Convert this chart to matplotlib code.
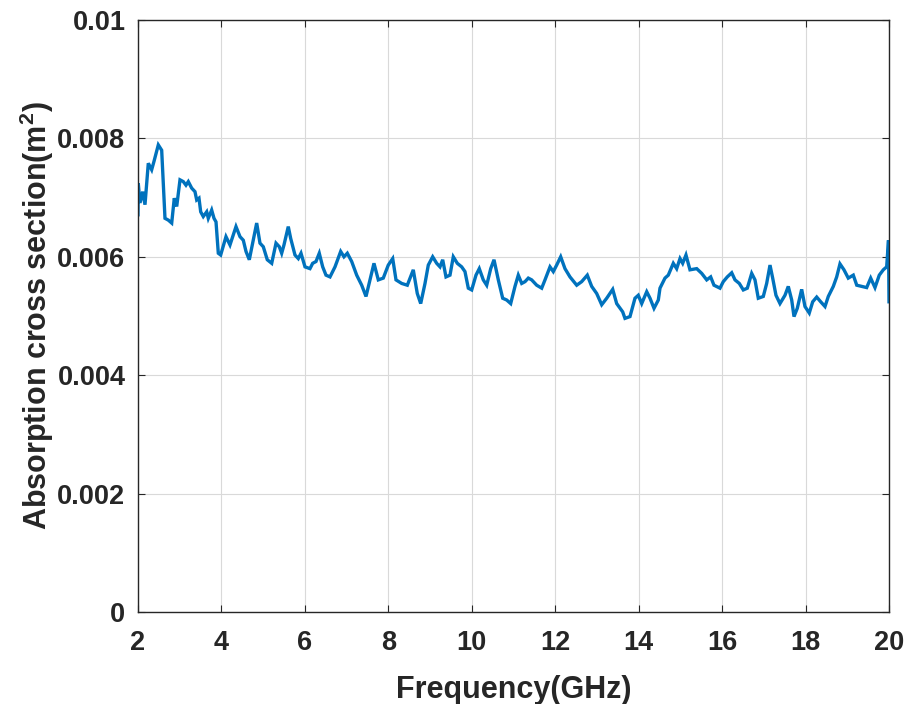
import matplotlib
matplotlib.use("Agg")
import matplotlib.pyplot as plt

# frequency (GHz) and absorption cross section (x1e-3 m^2)
freq = [
    2.000, 2.007, 2.048, 2.113, 2.168, 2.247, 2.328, 2.383, 2.487, 2.568,
    2.647, 2.726, 2.808, 2.870, 2.928, 3.007, 3.086, 3.150, 3.206, 3.287,
    3.366, 3.407, 3.462, 3.503, 3.565, 3.647, 3.685, 3.766, 3.822, 3.870,
    3.925, 3.982, 4.109, 4.205, 4.349, 4.445, 4.524, 4.589, 4.668, 4.749,
    4.845, 4.924, 5.003, 5.099, 5.205, 5.308, 5.387, 5.444, 5.499, 5.602,
    5.660, 5.763, 5.842, 5.907, 6.003, 6.122, 6.187, 6.266, 6.345, 6.427,
    6.506, 6.602, 6.722, 6.858, 6.937, 7.017, 7.122, 7.242, 7.362, 7.465,
    7.561, 7.656, 7.760, 7.879, 7.999, 8.105, 8.184, 8.320, 8.455, 8.598,
    8.694, 8.776, 8.879, 8.958, 9.063, 9.159, 9.238, 9.303, 9.382, 9.478,
    9.557, 9.653, 9.758, 9.837, 9.917, 9.998, 10.101, 10.180, 10.276, 10.358,
    10.454, 10.533, 10.636, 10.741, 10.837, 10.933, 11.036, 11.115, 11.197, 11.276,
    11.355, 11.436, 11.556, 11.676, 11.755, 11.875, 11.954, 12.035, 12.131, 12.234,
    12.354, 12.515, 12.634, 12.769, 12.874, 12.994, 13.114, 13.234, 13.378, 13.473,
    13.617, 13.672, 13.792, 13.912, 13.991, 14.073, 14.193, 14.272, 14.368, 14.471,
    14.511, 14.631, 14.710, 14.830, 14.911, 14.991, 15.055, 15.134, 15.230, 15.391,
    15.511, 15.631, 15.726, 15.805, 15.949, 16.028, 16.124, 16.230, 16.309, 16.412,
    16.508, 16.604, 16.709, 16.788, 16.867, 16.987, 17.068, 17.148, 17.212, 17.291,
    17.387, 17.507, 17.586, 17.668, 17.723, 17.802, 17.907, 17.986, 18.089, 18.171,
    18.267, 18.363, 18.466, 18.545, 18.665, 18.746, 18.825, 18.921, 19.024, 19.144,
    19.227, 19.345, 19.465, 19.561, 19.664, 19.767, 19.863, 19.944, 19.988, 20.000,
]
acs = [
    6.71, 7.24, 6.91, 7.10, 6.88, 7.58, 7.47, 7.61, 7.89, 7.80,
    6.65, 6.62, 6.57, 6.99, 6.85, 7.30, 7.27, 7.21, 7.27, 7.16,
    7.10, 6.96, 6.99, 6.76, 6.68, 6.76, 6.65, 6.79, 6.65, 6.59,
    6.06, 6.03, 6.34, 6.20, 6.51, 6.34, 6.28, 6.09, 5.95, 6.23,
    6.57, 6.23, 6.17, 5.95, 5.89, 6.23, 6.17, 6.06, 6.20, 6.51,
    6.31, 6.03, 5.97, 6.06, 5.83, 5.80, 5.89, 5.92, 6.06, 5.83,
    5.69, 5.66, 5.83, 6.09, 6.00, 6.06, 5.92, 5.69, 5.52, 5.33,
    5.61, 5.89, 5.61, 5.64, 5.86, 5.97, 5.61, 5.55, 5.52, 5.78,
    5.38, 5.21, 5.55, 5.86, 6.00, 5.89, 5.83, 5.95, 5.66, 5.69,
    6.00, 5.89, 5.83, 5.75, 5.47, 5.44, 5.69, 5.80, 5.61, 5.52,
    5.80, 5.95, 5.61, 5.30, 5.27, 5.21, 5.50, 5.69, 5.55, 5.58,
    5.64, 5.61, 5.52, 5.47, 5.61, 5.83, 5.75, 5.86, 6.00, 5.80,
    5.66, 5.52, 5.58, 5.69, 5.50, 5.38, 5.19, 5.30, 5.45, 5.21,
    5.07, 4.96, 4.99, 5.30, 5.35, 5.21, 5.41, 5.30, 5.13, 5.27,
    5.47, 5.64, 5.69, 5.89, 5.80, 5.97, 5.89, 6.03, 5.78, 5.80,
    5.72, 5.61, 5.66, 5.52, 5.47, 5.58, 5.66, 5.73, 5.61, 5.55,
    5.44, 5.47, 5.72, 5.61, 5.30, 5.33, 5.55, 5.86, 5.64, 5.35,
    5.21, 5.35, 5.50, 5.27, 4.99, 5.13, 5.45, 5.16, 5.05, 5.24,
    5.32, 5.24, 5.16, 5.33, 5.50, 5.66, 5.88, 5.78, 5.64, 5.69,
    5.52, 5.50, 5.48, 5.64, 5.48, 5.69, 5.78, 5.83, 6.28, 5.24,
]
acs = [v * 1e-3 for v in acs]

x_ticks = [2, 4, 6, 8, 10, 12, 14, 16, 18, 20]
y_ticks = [0, 0.002, 0.004, 0.006, 0.008, 0.01]
y_tick_labels = ['0', '0.002', '0.004', '0.006', '0.008', '0.01']

plt.rcParams['font.family'] = ['Liberation Sans', 'DejaVu Sans']
plt.rcParams['font.weight'] = 'bold'
plt.rcParams['mathtext.fontset'] = 'custom'
plt.rcParams['mathtext.rm'] = 'Liberation Sans:bold'

text_col = '#262626'

fig = plt.figure(figsize=(9.09, 7.04), dpi=100)
ax = fig.add_axes([0.1518, 0.1307, 0.8262, 0.8409])

ax.plot(freq, acs, color='#0072BD', linewidth=2.4, solid_joinstyle='miter')

ax.set_xlim(2, 20)
ax.set_ylim(0, 0.01)
ax.set_xticks(x_ticks)
ax.set_xticklabels([str(t) for t in x_ticks])
ax.set_yticks(y_ticks)
ax.set_yticklabels(y_tick_labels)

ax.grid(True, color='#d9d9d9', linewidth=0.8)
ax.set_axisbelow(True)
for s in ax.spines.values():
    s.set_color(text_col)
    s.set_linewidth(1.0)

ax.tick_params(axis='both', direction='in', length=5, width=0.8, color=text_col,
               labelcolor=text_col, labelsize=19.5, top=True, right=True)
ax.tick_params(axis='x', pad=13)
ax.tick_params(axis='y', pad=9)

ax.set_xlabel('Frequency(GHz)', fontsize=22, fontweight='bold', color=text_col, labelpad=14)
ax.set_ylabel('Absorption cross section(m$^2$)', fontsize=22, fontweight='bold',
              color=text_col, labelpad=1)

fig.savefig('out.png', dpi=100)
